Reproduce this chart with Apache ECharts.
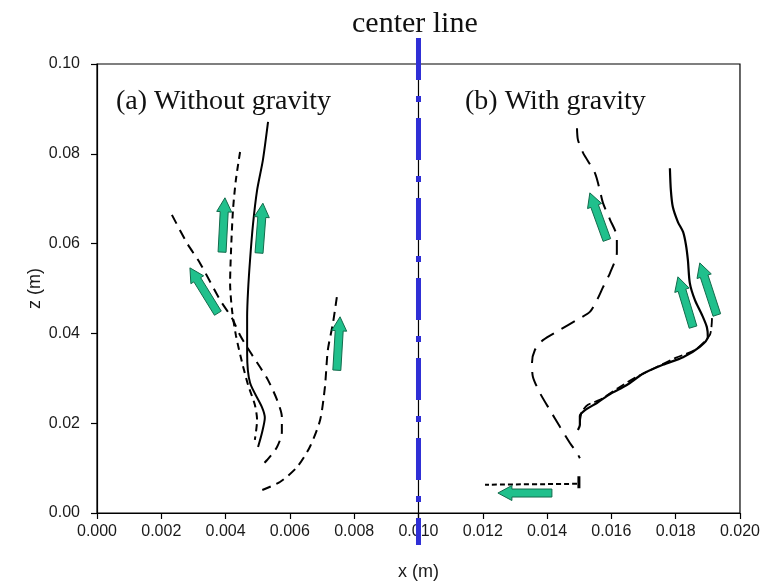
<!DOCTYPE html>
<html>
<head>
<meta charset="utf-8">
<script src="https://cdn.jsdelivr.net/npm/echarts@6/dist/echarts.min.js"></script>
<style>
  html, body { margin: 0; padding: 0; background: #fff; }
  #chart { width: 763px; height: 586px; }
</style>
</head>
<body>
<div id="chart"></div>
<script>
// Axis ticks
const xTicks = [0.000, 0.002, 0.004, 0.006, 0.008, 0.010, 0.012, 0.014, 0.016, 0.018, 0.020];
const zTicks = [0.00, 0.02, 0.04, 0.06, 0.08, 0.10];

// Channel centre line position and its drawn extent (m)
const centerX = 0.010;
const centerSpan = [0.1058, -0.0071];

// (a) Without gravity: bubble paths [x, z]
const noGravitySolid = [
  [0.00532, 0.0871], [0.00516, 0.0786], [0.00498, 0.0719], [0.00485, 0.0641],
  [0.00476, 0.0563], [0.00470, 0.0497], [0.00467, 0.0437], [0.00467, 0.0356],
  [0.00476, 0.0290], [0.00513, 0.0236], [0.00522, 0.0212], [0.00513, 0.0178],
  [0.00501, 0.0147]
];
const noGravityDashA = [
  [0.00445, 0.0804], [0.00432, 0.0742], [0.00423, 0.0675], [0.00417, 0.0586],
  [0.00414, 0.0512], [0.00420, 0.0452], [0.00432, 0.0396], [0.00451, 0.0336],
  [0.00470, 0.0285], [0.00491, 0.0241], [0.00498, 0.0207], [0.00491, 0.0163]
];
const noGravityDashB = [
  [0.00233, 0.0664], [0.00280, 0.0601], [0.00320, 0.0557], [0.00383, 0.0474],
  [0.00420, 0.0434], [0.00445, 0.0396], [0.00476, 0.0359], [0.00507, 0.0325],
  [0.00532, 0.0296], [0.00560, 0.0252], [0.00575, 0.0214], [0.00575, 0.0180],
  [0.00560, 0.0147], [0.00529, 0.0118], [0.00507, 0.0102]
];
const noGravityDashC = [
  [0.00746, 0.0481], [0.00734, 0.0423], [0.00718, 0.0363], [0.00709, 0.0281],
  [0.00694, 0.0207], [0.00662, 0.0147], [0.00622, 0.0102], [0.00569, 0.0069],
  [0.00513, 0.0051]
];

// (b) With gravity: bubble paths [x, z]
const gravityDash = [
  [0.01493, 0.0857], [0.01496, 0.0831], [0.01512, 0.0802], [0.01549, 0.0757],
  [0.01564, 0.0719], [0.01574, 0.0690], [0.01596, 0.0653], [0.01617, 0.0615],
  [0.01617, 0.0579], [0.01596, 0.0535], [0.01574, 0.0503], [0.01555, 0.0474],
  [0.01533, 0.0448], [0.01493, 0.0430], [0.01440, 0.0408], [0.01387, 0.0385],
  [0.01362, 0.0363], [0.01353, 0.0334], [0.01356, 0.0303], [0.01378, 0.0267],
  [0.01409, 0.0229], [0.01440, 0.0192], [0.01471, 0.0156], [0.01493, 0.0134],
  [0.01502, 0.0122]
];
const gravitySolid = [
  [0.01782, 0.0768], [0.01785, 0.0719], [0.01791, 0.0682], [0.01807, 0.0648],
  [0.01823, 0.0626], [0.01832, 0.0597], [0.01838, 0.0563], [0.01844, 0.0512],
  [0.01860, 0.0474], [0.01882, 0.0441], [0.01897, 0.0414], [0.01900, 0.0392],
  [0.01875, 0.0370], [0.01823, 0.0347], [0.01760, 0.0330], [0.01698, 0.0310],
  [0.01648, 0.0285], [0.01596, 0.0265], [0.01555, 0.0245], [0.01518, 0.0229],
  [0.01502, 0.0216], [0.01502, 0.0196], [0.01496, 0.0185]
];
const gravityDashTwin = [
  [0.01913, 0.0434], [0.01906, 0.0396], [0.01860, 0.0363], [0.01798, 0.0345],
  [0.01735, 0.0323], [0.01673, 0.0301], [0.01620, 0.0278], [0.01564, 0.0252],
  [0.01527, 0.0241], [0.01508, 0.0225], [0.01502, 0.0203]
];
const gravityBottom = [[0.01493, 0.0065], [0.01207, 0.0063]];
const gravityBottomEnd = [[0.01499, 0.0082], [0.01499, 0.0055]];

// Motion arrows: tail and head [x, z]
const arrowTail = [
  [0.00389, 0.0581], [0.00504, 0.0579], [0.00376, 0.0445], [0.00746, 0.0318],
  [0.01586, 0.0608], [0.01854, 0.0414], [0.01928, 0.0441], [0.01415, 0.00445]
];
const arrowHead = [
  [0.00398, 0.0702], [0.00516, 0.0690], [0.00289, 0.0546], [0.00756, 0.0437],
  [0.01533, 0.0713], [0.01807, 0.0526], [0.01875, 0.0557], [0.01247, 0.00445]
];

const arrowData = arrowTail.map((t, i) => [t[0], t[1], arrowHead[i][0], arrowHead[i][1]]);

function pathSeries(data, dash, width) {
  return {
    type: 'line',
    data: data,
    showSymbol: false,
    smooth: 0.25,
    silent: true,
    z: 3,
    lineStyle: { color: '#000', width: width || 2, type: dash || 'solid' }
  };
}

function renderArrow(params, api) {
  const p0 = api.coord([api.value(0), api.value(1)]);
  const p1 = api.coord([api.value(2), api.value(3)]);
  const dx = p1[0] - p0[0], dy = p1[1] - p0[1];
  const len = Math.sqrt(dx * dx + dy * dy);
  const ux = dx / len, uy = dy / len;
  const nx = -uy, ny = ux;
  const shaft = 4, head = 7.5, headLen = 14;
  const bx = p1[0] - ux * headLen, by = p1[1] - uy * headLen;
  const pts = [
    [p0[0] + nx * shaft, p0[1] + ny * shaft],
    [bx + nx * shaft, by + ny * shaft],
    [bx + nx * head, by + ny * head],
    [p1[0], p1[1]],
    [bx - nx * head, by - ny * head],
    [bx - nx * shaft, by - ny * shaft],
    [p0[0] - nx * shaft, p0[1] - ny * shaft]
  ];
  return {
    type: 'polygon',
    shape: { points: pts },
    style: { fill: '#20c08c', stroke: '#136b4c', lineWidth: 1 }
  };
}

const chart = echarts.init(document.getElementById('chart'), null, { renderer: 'canvas' });

const axisFont = { fontFamily: 'Liberation Sans, Arial, sans-serif', fontSize: 16, color: '#1a1a1a' };
const nameFont = { fontFamily: 'Liberation Sans, Arial, sans-serif', fontSize: 18, color: '#1a1a1a' };
const serif = '"Liberation Serif", "Times New Roman", serif';

chart.setOption({
  animation: false,
  backgroundColor: '#fff',
  grid: {
    left: 97, right: 23, top: 64, bottom: 73,
    show: true, borderColor: '#000', borderWidth: 1.2, backgroundColor: 'transparent'
  },
  xAxis: {
    type: 'value',
    min: xTicks[0], max: xTicks[xTicks.length - 1], interval: 0.002,
    name: 'x (m)', nameLocation: 'middle', nameGap: 50,
    nameTextStyle: nameFont,
    axisLine: { show: true, onZero: false, lineStyle: { color: '#000', width: 1.2 } },
    axisTick: { show: true, inside: false, length: 6, lineStyle: { color: '#000', width: 1.2 } },
    axisLabel: Object.assign({ margin: 11, formatter: v => v.toFixed(3) }, axisFont),
    splitLine: { show: false }
  },
  yAxis: {
    type: 'value',
    min: zTicks[0], max: zTicks[zTicks.length - 1], interval: 0.02,
    name: 'z (m)', nameLocation: 'middle', nameGap: 53, nameRotate: 90,
    nameMoveOverlap: false,
    nameTextStyle: nameFont,
    axisLine: { show: true, onZero: false, lineStyle: { color: '#000', width: 1.2 } },
    axisTick: { show: true, inside: false, length: 6, lineStyle: { color: '#000', width: 1.2 } },
    axisLabel: Object.assign({ margin: 17, formatter: v => v.toFixed(2) }, axisFont),
    splitLine: { show: false }
  },
  graphic: [
    { type: 'text', left: 352, top: 9,
      style: { text: 'center line', font: '30px ' + serif, fill: '#111' } },
    { type: 'text', left: 116, top: 88,
      style: { text: '(a) Without gravity', font: '28px ' + serif, fill: '#111' } },
    { type: 'text', left: 465, top: 88,
      style: { text: '(b) With gravity', font: '28px ' + serif, fill: '#111' } }
  ],
  series: [
    // thin black centre axis
    {
      type: 'line', data: [[centerX, zTicks[zTicks.length - 1]], [centerX, centerSpan[1]]],
      showSymbol: false, clip: false, silent: true, z: 4,
      lineStyle: { color: '#000', width: 1.2 }
    },
    // blue dash-dot centre line
    {
      type: 'line', data: [[centerX, centerSpan[0]], [centerX, centerSpan[1]]],
      showSymbol: false, clip: false, silent: true, z: 5,
      lineStyle: { color: '#2f2fd6', width: 5, type: [42, 16, 6, 16], cap: 'butt' }
    },
    pathSeries(noGravitySolid, 'solid', 2),
    pathSeries(noGravityDashA, [7, 5], 2),
    pathSeries(noGravityDashB, [10, 7], 2),
    pathSeries(noGravityDashC, [9, 6], 2),
    pathSeries(gravityDash, [15, 9], 2),
    pathSeries(gravitySolid, 'solid', 2.2),
    pathSeries(gravityDashTwin, [9, 4], 1.8),
    pathSeries(gravityBottom, [5, 3], 2),
    pathSeries(gravityBottomEnd, 'solid', 3),
    {
      type: 'custom',
      data: arrowData,
      renderItem: renderArrow,
      silent: true,
      z: 6
    }
  ]
});
</script>
</body>
</html>
